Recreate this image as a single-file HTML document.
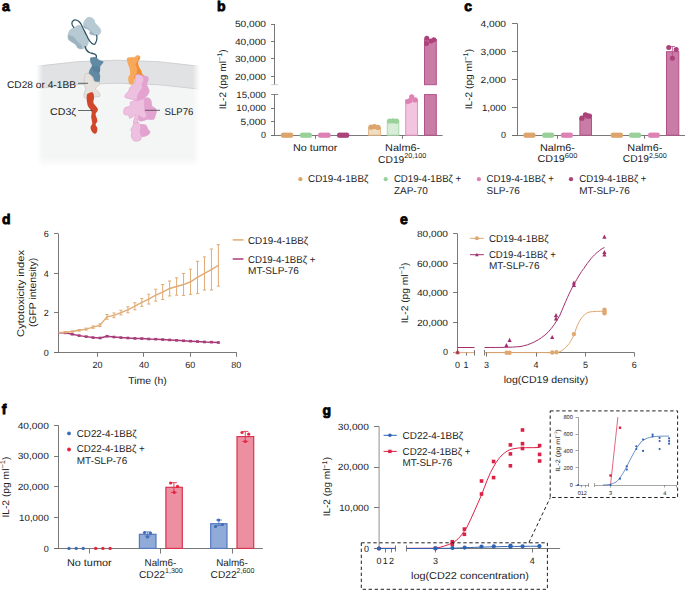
<!DOCTYPE html>
<html><head><meta charset="utf-8"><style>
html,body{margin:0;padding:0;background:#fff;width:685px;height:590px;overflow:hidden}
svg{display:block;font-family:"Liberation Sans",sans-serif;text-rendering:geometricPrecision}
</style></head><body>
<svg width="685" height="590" viewBox="0 0 685 590">
<defs>
<linearGradient id="hfade" x1="36" x2="200" y1="0" y2="0" gradientUnits="userSpaceOnUse">
<stop offset="0" stop-color="#fff" stop-opacity="1"/><stop offset="0.045" stop-color="#fff" stop-opacity="0"/>
<stop offset="0.955" stop-color="#fff" stop-opacity="0"/><stop offset="1" stop-color="#fff" stop-opacity="1"/></linearGradient>
<linearGradient id="vfade" x1="0" x2="0" y1="158" y2="167" gradientUnits="userSpaceOnUse">
<stop offset="0" stop-color="#fff" stop-opacity="0"/><stop offset="1" stop-color="#fff" stop-opacity="1"/></linearGradient>
</defs>
<rect x="37" y="70" width="163" height="98" fill="#f4f5f5"/>
<path d="M36,66.3 Q118,54 200,66.3 L200,89.2 Q118,77.5 36,88.6 Z" fill="#e1e2e4"/>
<path d="M36,66.3 Q118,54 200,66.3" fill="none" stroke="#c9cacc" stroke-width="0.8"/>
<path d="M36,88.6 Q118,77.5 200,89.2" fill="none" stroke="#c9cacc" stroke-width="0.8"/>
<rect x="30" y="50" width="176" height="120" fill="url(#hfade)"/>
<rect x="30" y="158" width="176" height="12" fill="url(#vfade)"/>
<path d="M84.10,21.90 C84.82,20.48 85.18,19.35 86.60,18.30 C88.02,17.25 88.50,17.12 90.20,17.40 C91.90,17.68 92.76,18.17 93.90,19.50 C95.04,20.83 94.12,21.54 95.10,23.10 C96.08,24.66 96.82,24.61 98.10,26.20 C99.38,27.79 100.16,28.20 100.60,29.90 C101.04,31.60 100.86,32.24 100.00,33.50 C99.14,34.76 98.77,35.02 96.90,35.30 C95.03,35.58 93.70,35.12 92.00,34.70 C90.30,34.28 90.02,34.34 89.60,33.50 C89.18,32.66 90.62,32.10 90.20,31.10 C89.78,30.10 89.22,30.06 87.80,29.20 C86.38,28.34 85.10,28.52 84.10,27.40 C83.10,26.28 83.50,25.68 83.50,24.40 C83.50,23.12 83.38,23.32 84.10,21.90 Z" fill="#b7cad4" stroke="#a5bbc6" stroke-width="0.5"/>
<path d="M84.10,25.50 C84.34,25.51 86.01,27.15 86.50,27.50 C86.99,27.85 88.55,28.65 89.00,29.00 C89.45,29.35 90.50,30.55 91.00,31.00 C91.50,31.45 93.41,33.07 94.00,33.50 C94.59,33.93 97.10,35.18 96.90,35.30 C96.70,35.42 92.73,34.88 92.00,34.70 C91.27,34.52 89.78,33.86 89.60,33.50 C89.42,33.14 90.38,31.53 90.20,31.10 C90.02,30.67 88.41,29.57 87.80,29.20 C87.19,28.83 84.47,27.77 84.10,27.40 C83.73,27.03 83.86,25.49 84.10,25.50 Z" fill="#9db4c0"/>
<path d="M70.10,29.90 C71.38,28.76 72.28,28.47 74.40,27.40 C76.52,26.33 77.50,25.16 79.20,25.30 C80.90,25.44 80.42,26.37 81.70,28.00 C82.98,29.63 83.42,30.15 84.70,32.30 C85.98,34.45 86.34,35.08 87.20,37.20 C88.06,39.32 88.54,39.28 88.40,41.40 C88.26,43.52 88.02,44.57 86.60,46.30 C85.18,48.03 84.31,48.38 82.30,48.80 C80.29,49.22 79.56,49.10 78.00,48.10 C76.44,47.10 77.02,45.92 75.60,44.50 C74.18,43.08 73.53,43.14 71.90,42.00 C70.27,40.86 69.51,41.16 68.60,39.60 C67.69,38.04 67.93,37.00 68.00,35.30 C68.07,33.60 68.41,33.56 68.90,32.30 C69.39,31.04 68.82,31.04 70.10,29.90 Z" fill="#b7cad4" stroke="#a5bbc6" stroke-width="0.5"/>
<path d="M68.00,35.30 C68.24,34.89 70.40,35.33 71.00,35.50 C71.60,35.67 73.50,36.60 74.00,37.00 C74.50,37.40 75.55,38.95 76.00,39.50 C76.45,40.05 78.00,42.00 78.50,42.50 C79.00,43.00 80.62,43.87 81.00,44.50 C81.38,45.13 82.60,48.44 82.30,48.80 C82.00,49.16 78.67,48.53 78.00,48.10 C77.33,47.67 76.21,45.11 75.60,44.50 C74.99,43.89 72.60,42.49 71.90,42.00 C71.20,41.51 68.99,40.27 68.60,39.60 C68.21,38.93 67.76,35.71 68.00,35.30 Z" fill="#9db4c0"/>
<path d="M73.80,27.40 C73.29,26.44 72.09,25.59 71.90,23.80 C71.71,22.01 71.95,21.69 73.10,20.70 C74.25,19.71 74.39,19.62 76.20,20.10 C78.01,20.58 78.11,20.39 79.90,22.50 C81.69,24.61 81.11,24.59 82.90,28.00 C84.69,31.41 84.81,31.89 86.60,35.30 C88.39,38.71 87.81,38.43 89.60,40.80 C91.39,43.17 91.67,43.69 93.30,44.20 C94.93,44.71 94.74,44.25 95.70,42.70 C96.66,41.15 96.66,40.37 96.90,38.40 C97.14,36.43 96.68,36.13 96.60,35.30" fill="none" stroke="#2f5663" stroke-width="1.25" stroke-linecap="round"/>
<path d="M85.30,46.60 C85.62,47.51 85.38,48.43 86.50,50.00 C87.62,51.57 87.63,51.51 89.50,52.50 C91.37,53.49 91.77,52.98 93.50,53.70 C95.23,54.42 95.25,54.11 96.00,55.20 C96.75,56.29 96.22,57.11 96.30,57.80" fill="none" stroke="#2f5663" stroke-width="1.4" stroke-linecap="round"/>
<path d="M90.30,57.70 C90.66,57.09 92.33,57.29 93.00,57.20 C93.67,57.11 94.70,56.83 95.30,57.00 C95.90,57.17 96.95,58.09 97.50,58.50 C98.05,58.91 98.60,59.66 99.40,60.10 C100.20,60.54 103.07,61.35 103.50,61.80 C103.93,62.25 103.00,62.94 102.60,63.50 C102.20,64.06 100.83,65.32 100.50,66.00 C100.17,66.68 100.25,67.72 100.10,68.60 C99.95,69.48 99.40,71.68 99.40,72.60 C99.40,73.52 100.01,74.78 100.10,75.50 C100.19,76.22 100.23,77.07 100.10,78.00 C99.97,78.93 99.87,81.95 99.10,82.50 C98.33,83.05 95.07,82.78 94.30,82.10 C93.53,81.42 93.81,78.28 93.30,77.40 C92.79,76.52 91.13,75.95 90.50,75.50 C89.87,75.05 88.72,74.75 88.60,74.00 C88.48,73.25 89.15,70.99 89.60,69.90 C90.05,68.81 91.81,66.65 92.00,65.80 C92.19,64.95 91.23,64.03 91.00,63.50 C90.77,62.97 90.39,62.57 90.30,61.80 C90.21,61.03 89.94,58.31 90.30,57.70 Z" fill="#6089a3"/>
<path d="M92.00,65.80 C92.20,65.27 93.83,66.91 94.50,67.00 C95.17,67.09 96.25,66.29 97.00,66.50 C97.75,66.71 99.78,67.79 100.10,68.60 C100.42,69.41 99.95,72.15 99.40,72.60 C98.85,73.05 96.85,72.21 96.00,72.00 C95.15,71.79 93.53,71.83 93.00,71.00 C92.47,70.17 91.80,66.33 92.00,65.80 Z" fill="#56809b"/>
<path d="M85.00,74.50 C85.43,74.01 86.97,73.15 87.80,73.30 C88.63,73.45 90.31,74.55 91.20,75.60 C92.09,76.65 93.38,80.31 94.50,81.20 C95.62,82.09 98.95,81.83 99.60,82.30 C100.25,82.77 99.95,83.87 99.40,84.70 C98.85,85.53 95.62,87.53 95.50,88.50 C95.38,89.47 97.90,90.96 98.50,92.00 C99.10,93.04 100.87,95.61 100.00,96.30 C99.13,96.99 94.07,97.03 92.00,97.20 C89.93,97.37 85.54,98.16 84.50,97.60 C83.46,97.04 84.03,94.15 84.20,93.00 C84.37,91.85 85.76,90.07 85.80,89.00 C85.84,87.93 84.71,86.20 84.50,85.00 C84.29,83.80 84.19,81.07 84.20,80.00 C84.21,78.93 84.49,77.73 84.60,77.00 C84.71,76.27 84.57,74.99 85.00,74.50 Z" fill="#e5e1dd" stroke="#c9beb4" stroke-width="0.6"/>
<path d="M87.30,94.00 C88.03,93.30 90.18,92.40 91.20,92.30 C92.22,92.20 92.93,92.47 93.40,93.40 C93.87,94.33 94.00,96.40 94.00,97.90 C94.00,99.40 93.13,101.10 93.40,102.40 C93.67,103.70 94.85,104.60 95.60,105.70 C96.35,106.80 97.62,108.07 97.90,109.00 C98.18,109.93 97.68,110.45 97.30,111.30 C96.92,112.15 95.70,112.98 95.60,114.10 C95.50,115.22 96.42,116.80 96.70,118.00 C96.98,119.20 97.48,120.18 97.30,121.30 C97.12,122.42 95.60,123.58 95.60,124.70 C95.60,125.82 97.12,126.70 97.30,128.00 C97.48,129.30 97.25,131.57 96.70,132.50 C96.15,133.43 94.92,133.97 94.00,133.60 C93.08,133.23 91.77,131.42 91.20,130.30 C90.63,129.18 90.42,128.02 90.60,126.90 C90.78,125.78 92.20,125.27 92.30,123.60 C92.40,121.93 91.30,118.77 91.20,116.90 C91.10,115.03 91.90,113.70 91.70,112.40 C91.50,111.10 90.65,110.22 90.00,109.10 C89.35,107.98 88.35,107.20 87.80,105.70 C87.25,104.20 86.87,101.63 86.70,100.10 C86.53,98.57 86.70,97.52 86.80,96.50 C86.90,95.48 86.57,94.70 87.30,94.00 Z" fill="#d1472b"/>
<path d="M126.90,58.30 C127.37,57.25 129.30,57.43 130.60,57.20 C131.90,56.97 133.63,57.23 134.70,56.90 C135.77,56.57 136.13,55.35 137.00,55.20 C137.87,55.05 139.38,55.48 139.90,56.00 C140.42,56.52 140.40,57.33 140.10,58.30 C139.80,59.27 138.33,60.45 138.10,61.80 C137.87,63.15 138.22,64.97 138.70,66.40 C139.18,67.83 140.42,69.15 141.00,70.40 C141.58,71.65 141.72,73.03 142.20,73.90 C142.68,74.77 144.97,75.42 143.90,75.60 C142.83,75.78 137.43,73.85 135.80,75.00 C134.17,76.15 134.87,80.87 134.10,82.50 C133.33,84.13 132.07,84.70 131.20,84.80 C130.33,84.90 129.38,84.35 128.90,83.10 C128.42,81.85 128.10,78.83 128.30,77.30 C128.50,75.77 129.90,75.43 130.10,73.90 C130.30,72.37 129.88,69.83 129.50,68.10 C129.12,66.37 128.23,65.13 127.80,63.50 C127.37,61.87 126.43,59.35 126.90,58.30 Z" fill="#f8a85a"/>
<path d="M138.60,57.50 C138.95,57.14 140.17,57.73 140.10,58.30 C140.03,58.87 138.29,60.72 138.10,61.80 C137.91,62.88 138.31,65.25 138.70,66.40 C139.09,67.55 140.53,69.40 141.00,70.40 C141.47,71.40 141.81,73.21 142.20,73.90 C142.59,74.59 144.73,75.19 143.90,75.60 C143.07,76.01 137.25,76.55 136.00,77.00 C134.75,77.45 134.74,79.07 134.50,79.00 C134.26,78.93 133.92,77.26 134.20,76.50 C134.48,75.74 136.23,74.42 136.60,73.30 C136.97,72.18 137.15,69.29 137.00,68.10 C136.85,66.91 135.43,65.35 135.50,64.40 C135.57,63.45 137.09,61.92 137.50,61.00 C137.91,60.08 138.25,57.86 138.60,57.50 Z" fill="#f08d35"/>
<path d="M134.20,123.10 C134.98,122.43 136.58,121.57 137.60,121.80 C138.62,122.03 138.93,123.93 140.30,124.50 C141.67,125.07 144.55,124.42 145.80,125.20 C147.05,125.98 147.13,128.18 147.80,129.20 C148.47,130.22 149.57,130.50 149.80,131.30 C150.03,132.10 149.87,133.22 149.20,134.00 C148.53,134.78 147.05,135.55 145.80,136.00 C144.55,136.45 142.62,136.02 141.70,136.70 C140.78,137.38 141.43,139.37 140.30,140.10 C139.17,140.83 136.25,141.33 134.90,141.10 C133.55,140.87 132.82,139.67 132.20,138.70 C131.58,137.73 131.25,136.42 131.20,135.30 C131.15,134.18 131.97,132.95 131.90,132.00 C131.83,131.05 130.63,130.63 130.80,129.60 C130.97,128.57 132.33,126.88 132.90,125.80 C133.47,124.72 133.42,123.77 134.20,123.10 Z" fill="#eec0e0" stroke="#d98fc3" stroke-width="0.5"/>
<path d="M140.30,124.50 C141.01,124.13 144.80,124.57 145.80,125.20 C146.80,125.83 147.27,128.39 147.80,129.20 C148.33,130.01 149.61,130.66 149.80,131.30 C149.99,131.94 149.73,133.37 149.20,134.00 C148.67,134.63 146.80,135.64 145.80,136.00 C144.80,136.36 142.51,137.23 141.70,136.70 C140.89,136.17 139.86,133.16 139.70,132.00 C139.54,130.84 140.42,129.00 140.50,128.00 C140.58,127.00 139.59,124.87 140.30,124.50 Z" fill="#e3a3d0"/>
<path d="M135.90,98.20 C137.00,97.97 138.32,99.80 139.70,99.90 C141.08,100.00 142.90,99.17 144.20,98.80 C145.50,98.43 146.40,97.52 147.50,97.70 C148.60,97.88 150.05,98.52 150.80,99.90 C151.55,101.28 151.25,104.62 152.00,106.00 C152.75,107.38 154.57,107.28 155.30,108.20 C156.03,109.12 156.40,110.30 156.40,111.50 C156.40,112.70 155.77,114.10 155.30,115.40 C154.83,116.70 154.98,118.65 153.60,119.30 C152.22,119.95 148.57,119.12 147.00,119.30 C145.43,119.48 145.42,120.12 144.20,120.40 C142.98,120.68 140.90,121.32 139.70,121.00 C138.50,120.68 137.35,118.25 137.00,118.50 C136.65,118.75 138.18,121.75 137.60,122.50 C137.02,123.25 134.02,123.75 133.50,123.00 C132.98,122.25 134.10,119.35 134.50,118.00 C134.90,116.65 136.68,114.87 135.90,114.90 C135.12,114.93 131.00,118.12 129.80,118.20 C128.60,118.28 129.63,116.05 128.70,115.40 C127.77,114.75 124.95,115.40 124.20,114.30 C123.45,113.20 123.73,110.00 124.20,108.80 C124.67,107.60 125.98,107.67 127.00,107.10 C128.02,106.53 129.75,106.23 130.30,105.40 C130.85,104.57 129.83,102.78 130.30,102.10 C130.77,101.42 132.17,101.95 133.10,101.30 C134.03,100.65 134.80,98.43 135.90,98.20 Z" fill="#eec0e0" stroke="#d98fc3" stroke-width="0.5"/>
<path d="M144.20,98.80 C144.64,97.92 146.62,97.55 147.50,97.70 C148.38,97.85 150.20,98.79 150.80,99.90 C151.40,101.01 151.40,104.89 152.00,106.00 C152.60,107.11 154.71,107.47 155.30,108.20 C155.89,108.93 156.40,110.54 156.40,111.50 C156.40,112.46 155.67,114.36 155.30,115.40 C154.93,116.44 154.71,118.78 153.60,119.30 C152.49,119.82 148.25,119.15 147.00,119.30 C145.75,119.45 145.17,120.17 144.20,120.40 C143.23,120.63 140.51,121.67 139.70,121.00 C138.89,120.33 137.50,115.77 138.10,115.40 C138.70,115.03 143.09,118.35 144.20,118.20 C145.31,118.05 146.36,115.13 146.40,114.30 C146.44,113.47 144.79,113.33 144.50,112.00 C144.21,110.67 144.24,106.06 144.20,104.30 C144.16,102.54 143.76,99.68 144.20,98.80 Z" fill="#e3a3d0"/>
<path d="M135.30,75.60 C135.80,74.97 137.12,74.27 138.30,74.30 C139.48,74.33 140.87,75.38 142.40,75.80 C143.93,76.22 146.53,76.08 147.50,76.80 C148.47,77.52 148.33,78.87 148.20,80.10 C148.07,81.33 146.65,82.75 146.70,84.20 C146.75,85.65 148.08,87.62 148.50,88.80 C148.92,89.98 149.37,90.28 149.20,91.30 C149.03,92.32 148.30,93.80 147.50,94.90 C146.70,96.00 145.60,97.13 144.40,97.90 C143.20,98.67 141.57,99.07 140.30,99.50 C139.03,99.93 137.98,100.50 136.80,100.50 C135.62,100.50 134.65,99.85 133.20,99.50 C131.75,99.15 129.50,98.83 128.10,98.40 C126.70,97.97 125.22,97.57 124.80,96.90 C124.38,96.23 124.97,95.33 125.60,94.40 C126.23,93.47 127.92,92.40 128.60,91.30 C129.28,90.20 129.10,88.82 129.70,87.80 C130.30,86.78 131.27,86.13 132.20,85.20 C133.13,84.27 134.78,83.38 135.30,82.20 C135.82,81.02 135.30,79.20 135.30,78.10 C135.30,77.00 134.80,76.23 135.30,75.60 Z" fill="#eec0e0" stroke="#d98fc3" stroke-width="0.5"/>
<path d="M142.40,75.80 C142.93,75.37 146.73,76.23 147.50,76.80 C148.27,77.37 148.31,79.11 148.20,80.10 C148.09,81.09 146.66,83.04 146.70,84.20 C146.74,85.36 148.17,87.85 148.50,88.80 C148.83,89.75 149.33,90.49 149.20,91.30 C149.07,92.11 148.14,94.02 147.50,94.90 C146.86,95.78 145.36,97.29 144.40,97.90 C143.44,98.51 141.31,99.15 140.30,99.50 C139.29,99.85 137.17,101.10 136.80,100.50 C136.43,99.90 137.21,96.13 137.50,95.00 C137.79,93.87 138.40,92.93 139.00,92.00 C139.60,91.07 141.67,89.07 142.00,88.00 C142.33,86.93 141.30,85.07 141.50,84.00 C141.70,82.93 143.38,81.09 143.50,80.00 C143.62,78.91 141.87,76.23 142.40,75.80 Z" fill="#e3a3d0"/>
<line x1="78" y1="83.3" x2="88" y2="83.3" stroke="#444" stroke-width="0.8"/>
<line x1="78" y1="110.5" x2="92.6" y2="110.5" stroke="#444" stroke-width="0.8"/>
<line x1="145" y1="110.3" x2="160" y2="110.3" stroke="#444" stroke-width="0.8"/>
<text x="76" y="87.6" font-size="9.8" text-anchor="end" fill="#222222" textLength="69" lengthAdjust="spacingAndGlyphs">CD28 or 4-1BB</text>
<text x="76" y="114.6" font-size="9.8" text-anchor="end" fill="#222222" textLength="26" lengthAdjust="spacingAndGlyphs">CD3ζ</text>
<text x="164.5" y="114.5" font-size="9.8" text-anchor="start" fill="#222222" textLength="29" lengthAdjust="spacingAndGlyphs">SLP76</text>
<text x="2.1" y="11.3" font-size="14" text-anchor="start" font-weight="bold" fill="#000" stroke="#000" stroke-width="0.8">a</text>
<text x="217" y="10.6" font-size="14" text-anchor="start" font-weight="bold" fill="#000" stroke="#000" stroke-width="0.8">b</text>
<text x="464.2" y="10.6" font-size="14" text-anchor="start" font-weight="bold" fill="#000" stroke="#000" stroke-width="0.8">c</text>
<text x="2" y="223.8" font-size="14" text-anchor="start" font-weight="bold" fill="#000" stroke="#000" stroke-width="0.8">d</text>
<text x="400" y="223.8" font-size="14" text-anchor="start" font-weight="bold" fill="#000" stroke="#000" stroke-width="0.8">e</text>
<text x="1.8" y="414.2" font-size="14" text-anchor="start" font-weight="bold" fill="#000" stroke="#000" stroke-width="0.8">f</text>
<text x="322.4" y="414.5" font-size="14" text-anchor="start" font-weight="bold" fill="#000" stroke="#000" stroke-width="0.8">g</text>
<line x1="274.5" y1="24" x2="274.5" y2="84.7" stroke="#6a6a6a" stroke-width="0.9" />
<line x1="274.5" y1="94.5" x2="274.5" y2="135.2" stroke="#6a6a6a" stroke-width="0.9" />
<line x1="271.2" y1="84.7" x2="278.2" y2="84.7" stroke="#b9babc" stroke-width="0.7" />
<line x1="271.2" y1="94.5" x2="278.2" y2="94.5" stroke="#6a6a6a" stroke-width="0.8" />
<line x1="271" y1="24.5" x2="274.8" y2="24.5" stroke="#6a6a6a" stroke-width="0.9" />
<text x="266" y="27.2" font-size="9" text-anchor="end" font-weight="normal" fill="#222222" textLength="31.1" lengthAdjust="spacingAndGlyphs" >50,000</text>
<line x1="271" y1="41.5" x2="274.8" y2="41.5" stroke="#6a6a6a" stroke-width="0.9" />
<text x="266" y="44.7" font-size="9" text-anchor="end" font-weight="normal" fill="#222222" textLength="31.1" lengthAdjust="spacingAndGlyphs" >40,000</text>
<line x1="271" y1="58.5" x2="274.8" y2="58.5" stroke="#6a6a6a" stroke-width="0.9" />
<text x="266" y="62.0" font-size="9" text-anchor="end" font-weight="normal" fill="#222222" textLength="31.1" lengthAdjust="spacingAndGlyphs" >30,000</text>
<line x1="271" y1="76.5" x2="274.8" y2="76.5" stroke="#6a6a6a" stroke-width="0.9" />
<text x="266" y="79.60000000000001" font-size="9" text-anchor="end" font-weight="normal" fill="#222222" textLength="31.1" lengthAdjust="spacingAndGlyphs" >20,000</text>
<text x="266" y="97.7" font-size="9" text-anchor="end" font-weight="normal" fill="#222222" textLength="29.7" lengthAdjust="spacingAndGlyphs" >15,000</text>
<line x1="271" y1="108.5" x2="274.8" y2="108.5" stroke="#6a6a6a" stroke-width="0.9" />
<text x="266" y="111.4" font-size="9" text-anchor="end" font-weight="normal" fill="#222222" textLength="29.7" lengthAdjust="spacingAndGlyphs" >10,000</text>
<line x1="271" y1="121.5" x2="274.8" y2="121.5" stroke="#6a6a6a" stroke-width="0.9" />
<text x="266" y="124.7" font-size="9" text-anchor="end" font-weight="normal" fill="#222222" textLength="25.5" lengthAdjust="spacingAndGlyphs" >5,000</text>
<line x1="271" y1="135.5" x2="274.8" y2="135.5" stroke="#6a6a6a" stroke-width="0.9" />
<text x="266" y="138.39999999999998" font-size="9" text-anchor="end" font-weight="normal" fill="#222222" >0</text>
<text transform="translate(225.8,109.3) rotate(-90)" x="0" y="0" font-size="9.6" fill="#222222" textLength="60" lengthAdjust="spacingAndGlyphs">IL-2 (pg ml<tspan font-size="7" dy="-3.8">−1</tspan><tspan dy="3.8">)</tspan></text>
<line x1="271" y1="135.5" x2="442.6" y2="135.5" stroke="#6a6a6a" stroke-width="0.9" />
<line x1="315.5" y1="135.2" x2="315.5" y2="138.8" stroke="#6a6a6a" stroke-width="0.9" />
<line x1="402.5" y1="135.2" x2="402.5" y2="138.8" stroke="#6a6a6a" stroke-width="0.9" />
<text x="315.2" y="151.4" font-size="10" text-anchor="middle" font-weight="normal" fill="#222222" textLength="44.4" lengthAdjust="spacingAndGlyphs" >No tumor</text>
<text x="402.6" y="151.4" font-size="10" text-anchor="middle" font-weight="normal" fill="#222222" textLength="35" lengthAdjust="spacingAndGlyphs" >Nalm6-</text>
<text x="402.2" y="162.5" font-size="10" text-anchor="middle" fill="#222222" textLength="48.2" lengthAdjust="spacingAndGlyphs">CD19<tspan font-size="7" dy="-4.4">20,100</tspan></text>
<circle cx="283.4" cy="135.2" r="2.6" fill="#dca56d"/>
<circle cx="285.83" cy="135.2" r="2.6" fill="#dca56d"/>
<circle cx="288.27" cy="135.2" r="2.6" fill="#dca56d"/>
<circle cx="290.7" cy="135.2" r="2.6" fill="#dca56d"/>
<circle cx="302.4" cy="135.2" r="2.6" fill="#9ad19a"/>
<circle cx="304.73" cy="135.2" r="2.6" fill="#9ad19a"/>
<circle cx="307.07" cy="135.2" r="2.6" fill="#9ad19a"/>
<circle cx="309.4" cy="135.2" r="2.6" fill="#9ad19a"/>
<circle cx="320.6" cy="135.2" r="2.6" fill="#de82b6"/>
<circle cx="323.1" cy="135.2" r="2.6" fill="#de82b6"/>
<circle cx="325.6" cy="135.2" r="2.6" fill="#de82b6"/>
<circle cx="328.1" cy="135.2" r="2.6" fill="#de82b6"/>
<circle cx="339.6" cy="135.2" r="2.6" fill="#ab4279"/>
<circle cx="341.97" cy="135.2" r="2.6" fill="#ab4279"/>
<circle cx="344.33" cy="135.2" r="2.6" fill="#ab4279"/>
<circle cx="346.7" cy="135.2" r="2.6" fill="#ab4279"/>
<rect x="368.6" y="127.6" width="11.899999999999977" height="7.599999999999994" fill="#f2dcc0" stroke="#e2b686" stroke-width="1"/>
<circle cx="371" cy="127.2" r="2.6" fill="#dca56d"/>
<circle cx="374.5" cy="126.6" r="2.6" fill="#dca56d"/>
<circle cx="378" cy="127.4" r="2.6" fill="#dca56d"/>
<rect x="387.3" y="121.2" width="11.5" height="13.999999999999986" fill="#d7edd7" stroke="#a9d8a9" stroke-width="1"/>
<circle cx="389.6" cy="121" r="2.6" fill="#9ad19a"/>
<circle cx="393" cy="120.8" r="2.6" fill="#9ad19a"/>
<circle cx="396.5" cy="121.2" r="2.6" fill="#9ad19a"/>
<rect x="405.7" y="100" width="11.800000000000011" height="35.19999999999999" fill="#f3c4df" stroke="#e291c1" stroke-width="1"/>
<circle cx="407.8" cy="101.6" r="2.6" fill="#de82b6"/>
<circle cx="411.7" cy="96.8" r="2.6" fill="#de82b6"/>
<circle cx="415.2" cy="99.9" r="2.6" fill="#de82b6"/>
<circle cx="410" cy="100.5" r="2.6" fill="#de82b6"/>
<rect x="424.5" y="39.5" width="11.8" height="45.2" fill="#c97ca6" stroke="#b3518a" stroke-width="1"/>
<rect x="424.5" y="94.6" width="11.8" height="40.6" fill="#c97ca6" stroke="#b3518a" stroke-width="1"/>
<circle cx="426.8" cy="38.3" r="2.5" fill="#ab4279"/>
<circle cx="426.5" cy="43.5" r="2.5" fill="#ab4279"/>
<circle cx="433.9" cy="39.8" r="2.5" fill="#ab4279"/>
<circle cx="431" cy="41" r="2.5" fill="#ab4279"/>
<circle cx="300.4" cy="179.2" r="2.1" fill="#dca56d"/>
<text x="308" y="182.3" font-size="10" text-anchor="start" font-weight="normal" fill="#222222" textLength="60.4" lengthAdjust="spacingAndGlyphs" >CD19-4-1BBζ</text>
<circle cx="385.7" cy="179.2" r="2.1" fill="#9ad19a"/>
<text x="393.9" y="182.3" font-size="10" text-anchor="start" font-weight="normal" fill="#222222" textLength="67.3" lengthAdjust="spacingAndGlyphs" >CD19-4-1BBζ +</text>
<text x="393.9" y="193.70000000000002" font-size="10" text-anchor="start" font-weight="normal" fill="#222222" >ZAP-70</text>
<circle cx="478.9" cy="179.2" r="2.1" fill="#de82b6"/>
<text x="486.5" y="182.3" font-size="10" text-anchor="start" font-weight="normal" fill="#222222" textLength="67.3" lengthAdjust="spacingAndGlyphs" >CD19-4-1BBζ +</text>
<text x="486.5" y="193.70000000000002" font-size="10" text-anchor="start" font-weight="normal" fill="#222222" >SLP-76</text>
<circle cx="571" cy="179.2" r="2.1" fill="#ab4279"/>
<text x="579.2" y="182.3" font-size="10" text-anchor="start" font-weight="normal" fill="#222222" textLength="67.3" lengthAdjust="spacingAndGlyphs" >CD19-4-1BBζ +</text>
<text x="579.2" y="193.70000000000002" font-size="10" text-anchor="start" font-weight="normal" fill="#222222" >MT-SLP-76</text>
<line x1="517.5" y1="23.6" x2="517.5" y2="135.2" stroke="#6a6a6a" stroke-width="0.9" />
<line x1="512" y1="23.5" x2="517.5" y2="23.5" stroke="#6a6a6a" stroke-width="0.9" />
<text x="506" y="26.8" font-size="9" text-anchor="end" font-weight="normal" fill="#222222" textLength="25.5" lengthAdjust="spacingAndGlyphs" >4,000</text>
<line x1="512" y1="51.5" x2="517.5" y2="51.5" stroke="#6a6a6a" stroke-width="0.9" />
<text x="506" y="54.7" font-size="9" text-anchor="end" font-weight="normal" fill="#222222" textLength="25.5" lengthAdjust="spacingAndGlyphs" >3,000</text>
<line x1="512" y1="79.5" x2="517.5" y2="79.5" stroke="#6a6a6a" stroke-width="0.9" />
<text x="506" y="82.60000000000001" font-size="9" text-anchor="end" font-weight="normal" fill="#222222" textLength="25.5" lengthAdjust="spacingAndGlyphs" >2,000</text>
<line x1="512" y1="107.5" x2="517.5" y2="107.5" stroke="#6a6a6a" stroke-width="0.9" />
<text x="506" y="110.5" font-size="9" text-anchor="end" font-weight="normal" fill="#222222" textLength="24.1" lengthAdjust="spacingAndGlyphs" >1,000</text>
<line x1="512" y1="135.5" x2="517.5" y2="135.5" stroke="#6a6a6a" stroke-width="0.9" />
<text x="506" y="138.39999999999998" font-size="9" text-anchor="end" font-weight="normal" fill="#222222" >0</text>
<text transform="translate(472.0,109.3) rotate(-90)" x="0" y="0" font-size="9.6" fill="#222222" textLength="60.4" lengthAdjust="spacingAndGlyphs">IL-2 (pg ml<tspan font-size="7" dy="-3.8">−1</tspan><tspan dy="3.8">)</tspan></text>
<line x1="512" y1="135.5" x2="685" y2="135.5" stroke="#6a6a6a" stroke-width="0.9" />
<line x1="557.5" y1="135.2" x2="557.5" y2="138.8" stroke="#6a6a6a" stroke-width="0.9" />
<line x1="644.5" y1="135.2" x2="644.5" y2="138.8" stroke="#6a6a6a" stroke-width="0.9" />
<text x="557.4" y="150.9" font-size="10" text-anchor="middle" font-weight="normal" fill="#222222" textLength="35" lengthAdjust="spacingAndGlyphs" >Nalm6-</text>
<text x="557.4" y="162" font-size="10" text-anchor="middle" fill="#222222" textLength="40" lengthAdjust="spacingAndGlyphs">CD19<tspan font-size="7" dy="-4.4">600</tspan></text>
<text x="644.8" y="150.9" font-size="10" text-anchor="middle" font-weight="normal" fill="#222222" textLength="35" lengthAdjust="spacingAndGlyphs" >Nalm6-</text>
<text x="644.8" y="162" font-size="10" text-anchor="middle" fill="#222222" textLength="44" lengthAdjust="spacingAndGlyphs">CD19<tspan font-size="7" dy="-4.4">2,500</tspan></text>
<circle cx="526.0" cy="135.2" r="2.6" fill="#dca56d"/>
<circle cx="528.33" cy="135.2" r="2.6" fill="#dca56d"/>
<circle cx="530.67" cy="135.2" r="2.6" fill="#dca56d"/>
<circle cx="533.0" cy="135.2" r="2.6" fill="#dca56d"/>
<circle cx="544.7" cy="135.2" r="2.6" fill="#9ad19a"/>
<circle cx="547.03" cy="135.2" r="2.6" fill="#9ad19a"/>
<circle cx="549.37" cy="135.2" r="2.6" fill="#9ad19a"/>
<circle cx="551.7" cy="135.2" r="2.6" fill="#9ad19a"/>
<circle cx="563.4" cy="135.2" r="2.6" fill="#de82b6"/>
<circle cx="565.73" cy="135.2" r="2.6" fill="#de82b6"/>
<circle cx="568.07" cy="135.2" r="2.6" fill="#de82b6"/>
<circle cx="570.4" cy="135.2" r="2.6" fill="#de82b6"/>
<circle cx="613.2" cy="135.2" r="2.6" fill="#dca56d"/>
<circle cx="615.63" cy="135.2" r="2.6" fill="#dca56d"/>
<circle cx="618.07" cy="135.2" r="2.6" fill="#dca56d"/>
<circle cx="620.5" cy="135.2" r="2.6" fill="#dca56d"/>
<circle cx="631.6" cy="135.2" r="2.6" fill="#9ad19a"/>
<circle cx="633.93" cy="135.2" r="2.6" fill="#9ad19a"/>
<circle cx="636.27" cy="135.2" r="2.6" fill="#9ad19a"/>
<circle cx="638.6" cy="135.2" r="2.6" fill="#9ad19a"/>
<circle cx="650.6" cy="135.2" r="2.6" fill="#de82b6"/>
<circle cx="652.83" cy="135.2" r="2.6" fill="#de82b6"/>
<circle cx="655.07" cy="135.2" r="2.6" fill="#de82b6"/>
<circle cx="657.3" cy="135.2" r="2.6" fill="#de82b6"/>
<rect x="579.9" y="118.2" width="11.600000000000023" height="16.999999999999986" fill="#c97ca6" stroke="#b3518a" stroke-width="1"/>
<circle cx="581.9" cy="118.2" r="2.6" fill="#ab4279"/>
<circle cx="585.4" cy="114.9" r="2.6" fill="#ab4279"/>
<circle cx="589.5" cy="116" r="2.6" fill="#ab4279"/>
<circle cx="587" cy="115.6" r="2.6" fill="#ab4279"/>
<rect x="666.5" y="51.7" width="12.299999999999955" height="83.49999999999999" fill="#c97ca6" stroke="#b3518a" stroke-width="1"/>
<line x1="672.4" y1="46.5" x2="672.4" y2="58" stroke="#b3518a" stroke-width="0.8" />
<line x1="670" y1="46.5" x2="675" y2="46.5" stroke="#b3518a" stroke-width="0.8" />
<circle cx="668.7" cy="47.4" r="2.5" fill="#ab4279"/>
<circle cx="676.2" cy="49.4" r="2.5" fill="#ab4279"/>
<circle cx="672.4" cy="58.2" r="2.5" fill="#ab4279"/>
<line x1="58.5" y1="233.8" x2="58.5" y2="352.4" stroke="#6a6a6a" stroke-width="0.9" />
<line x1="54" y1="233.5" x2="58.4" y2="233.5" stroke="#6a6a6a" stroke-width="0.9" />
<text x="48.8" y="237.0" font-size="9" text-anchor="end" font-weight="normal" fill="#222222" >6</text>
<line x1="54" y1="273.5" x2="58.4" y2="273.5" stroke="#6a6a6a" stroke-width="0.9" />
<text x="48.8" y="276.5" font-size="9" text-anchor="end" font-weight="normal" fill="#222222" >4</text>
<line x1="54" y1="312.5" x2="58.4" y2="312.5" stroke="#6a6a6a" stroke-width="0.9" />
<text x="48.8" y="316.09999999999997" font-size="9" text-anchor="end" font-weight="normal" fill="#222222" >2</text>
<line x1="54" y1="352.5" x2="58.4" y2="352.5" stroke="#6a6a6a" stroke-width="0.9" />
<text x="48.8" y="355.59999999999997" font-size="9" text-anchor="end" font-weight="normal" fill="#222222" >0</text>
<line x1="54" y1="352.5" x2="236.6" y2="352.5" stroke="#6a6a6a" stroke-width="0.9" />
<line x1="97.5" y1="352.4" x2="97.5" y2="356.8" stroke="#6a6a6a" stroke-width="0.9" />
<text x="97.5" y="368.4" font-size="9" text-anchor="middle" font-weight="normal" fill="#222222" >20</text>
<line x1="143.5" y1="352.4" x2="143.5" y2="356.8" stroke="#6a6a6a" stroke-width="0.9" />
<text x="143.9" y="368.4" font-size="9" text-anchor="middle" font-weight="normal" fill="#222222" >40</text>
<line x1="190.5" y1="352.4" x2="190.5" y2="356.8" stroke="#6a6a6a" stroke-width="0.9" />
<text x="190.2" y="368.4" font-size="9" text-anchor="middle" font-weight="normal" fill="#222222" >60</text>
<line x1="236.5" y1="352.4" x2="236.5" y2="356.8" stroke="#6a6a6a" stroke-width="0.9" />
<text x="236.3" y="368.4" font-size="9" text-anchor="middle" font-weight="normal" fill="#222222" >80</text>
<text x="147.5" y="383.5" font-size="10" text-anchor="middle" font-weight="normal" fill="#222222" textLength="38.6" lengthAdjust="spacingAndGlyphs" >Time (h)</text>
<text transform="translate(24.2,336.9) rotate(-90)" x="0" y="0" font-size="9.8" fill="#222222" textLength="87" lengthAdjust="spacingAndGlyphs">Cytotoxicity index</text>
<text transform="translate(35.8,327.1) rotate(-90)" x="0" y="0" font-size="9.8" fill="#222222" textLength="69.3" lengthAdjust="spacingAndGlyphs">(GFP intensity)</text>
<polyline points="58.30,332.67 65.26,332.87 72.22,334.25 79.18,335.63 86.14,336.62 93.10,337.60 100.06,338.00 107.02,336.22 113.98,337.01 120.94,337.60 127.90,338.00 134.86,338.39 141.82,338.59 148.78,338.98 155.74,339.18 162.70,339.58 169.66,339.97 176.62,340.36 183.58,340.76 190.54,341.15 197.50,341.55 204.46,341.94 211.42,342.14 218.38,342.53" fill="none" stroke="#a83b79" stroke-width="1.5"/>
<rect x="63.76" y="331.57" width="3" height="2.6" fill="#a83b79"/>
<rect x="70.72" y="332.95" width="3" height="2.6" fill="#a83b79"/>
<rect x="77.68" y="334.33" width="3" height="2.6" fill="#a83b79"/>
<rect x="84.64" y="335.32" width="3" height="2.6" fill="#a83b79"/>
<rect x="91.60" y="336.30" width="3" height="2.6" fill="#a83b79"/>
<rect x="98.56" y="336.70" width="3" height="2.6" fill="#a83b79"/>
<rect x="105.52" y="334.92" width="3" height="2.6" fill="#a83b79"/>
<rect x="112.48" y="335.71" width="3" height="2.6" fill="#a83b79"/>
<rect x="119.44" y="336.30" width="3" height="2.6" fill="#a83b79"/>
<rect x="126.40" y="336.70" width="3" height="2.6" fill="#a83b79"/>
<rect x="133.36" y="337.09" width="3" height="2.6" fill="#a83b79"/>
<rect x="140.32" y="337.29" width="3" height="2.6" fill="#a83b79"/>
<rect x="147.28" y="337.68" width="3" height="2.6" fill="#a83b79"/>
<rect x="154.24" y="337.88" width="3" height="2.6" fill="#a83b79"/>
<rect x="161.20" y="338.28" width="3" height="2.6" fill="#a83b79"/>
<rect x="168.16" y="338.67" width="3" height="2.6" fill="#a83b79"/>
<rect x="175.12" y="339.06" width="3" height="2.6" fill="#a83b79"/>
<rect x="182.08" y="339.46" width="3" height="2.6" fill="#a83b79"/>
<rect x="189.04" y="339.85" width="3" height="2.6" fill="#a83b79"/>
<rect x="196.00" y="340.25" width="3" height="2.6" fill="#a83b79"/>
<rect x="202.96" y="340.64" width="3" height="2.6" fill="#a83b79"/>
<rect x="209.92" y="340.84" width="3" height="2.6" fill="#a83b79"/>
<rect x="216.88" y="341.23" width="3" height="2.6" fill="#a83b79"/>
<polyline points="58.30,332.67 65.26,332.28 72.22,331.49 79.18,330.30 86.14,329.12 93.10,327.15 100.06,325.17 107.02,316.89 113.98,315.31 120.94,312.55 127.90,309.78 134.86,306.23 141.82,302.48 148.78,299.13 155.74,295.18 162.70,292.03 169.66,288.47 176.62,286.50 183.58,284.53 190.54,281.77 197.50,277.43 204.46,273.48 211.42,269.53 218.38,265.39" fill="none" stroke="#e0ab74" stroke-width="1.4"/>
<line x1="65.26" y1="331.68" x2="65.26" y2="332.87" stroke="#e0ab74" stroke-width="1" />
<line x1="63.66" y1="331.68" x2="66.86" y2="331.68" stroke="#e0ab74" stroke-width="1" />
<line x1="63.66" y1="332.87" x2="66.86" y2="332.87" stroke="#e0ab74" stroke-width="1" />
<line x1="72.22" y1="330.89" x2="72.22" y2="332.08" stroke="#e0ab74" stroke-width="1" />
<line x1="70.62" y1="330.89" x2="73.82" y2="330.89" stroke="#e0ab74" stroke-width="1" />
<line x1="70.62" y1="332.08" x2="73.82" y2="332.08" stroke="#e0ab74" stroke-width="1" />
<line x1="79.18" y1="329.51" x2="79.18" y2="331.09" stroke="#e0ab74" stroke-width="1" />
<line x1="77.58" y1="329.51" x2="80.78" y2="329.51" stroke="#e0ab74" stroke-width="1" />
<line x1="77.58" y1="331.09" x2="80.78" y2="331.09" stroke="#e0ab74" stroke-width="1" />
<line x1="86.14" y1="328.13" x2="86.14" y2="330.11" stroke="#e0ab74" stroke-width="1" />
<line x1="84.54" y1="328.13" x2="87.74" y2="328.13" stroke="#e0ab74" stroke-width="1" />
<line x1="84.54" y1="330.11" x2="87.74" y2="330.11" stroke="#e0ab74" stroke-width="1" />
<line x1="93.1" y1="325.96" x2="93.1" y2="328.33" stroke="#e0ab74" stroke-width="1" />
<line x1="91.5" y1="325.96" x2="94.7" y2="325.96" stroke="#e0ab74" stroke-width="1" />
<line x1="91.5" y1="328.33" x2="94.7" y2="328.33" stroke="#e0ab74" stroke-width="1" />
<line x1="100.06" y1="323.79" x2="100.06" y2="326.55" stroke="#e0ab74" stroke-width="1" />
<line x1="98.46" y1="323.79" x2="101.66" y2="323.79" stroke="#e0ab74" stroke-width="1" />
<line x1="98.46" y1="326.55" x2="101.66" y2="326.55" stroke="#e0ab74" stroke-width="1" />
<line x1="107.02" y1="314.52" x2="107.02" y2="319.25" stroke="#e0ab74" stroke-width="1" />
<line x1="105.42" y1="314.52" x2="108.62" y2="314.52" stroke="#e0ab74" stroke-width="1" />
<line x1="105.42" y1="319.25" x2="108.62" y2="319.25" stroke="#e0ab74" stroke-width="1" />
<line x1="113.98" y1="312.94" x2="113.98" y2="317.68" stroke="#e0ab74" stroke-width="1" />
<line x1="112.38" y1="312.94" x2="115.58" y2="312.94" stroke="#e0ab74" stroke-width="1" />
<line x1="112.38" y1="317.68" x2="115.58" y2="317.68" stroke="#e0ab74" stroke-width="1" />
<line x1="120.94" y1="310.18" x2="120.94" y2="314.91" stroke="#e0ab74" stroke-width="1" />
<line x1="119.34" y1="310.18" x2="122.54" y2="310.18" stroke="#e0ab74" stroke-width="1" />
<line x1="119.34" y1="314.91" x2="122.54" y2="314.91" stroke="#e0ab74" stroke-width="1" />
<line x1="127.9" y1="306.82" x2="127.9" y2="312.74" stroke="#e0ab74" stroke-width="1" />
<line x1="126.3" y1="306.82" x2="129.5" y2="306.82" stroke="#e0ab74" stroke-width="1" />
<line x1="126.3" y1="312.74" x2="129.5" y2="312.74" stroke="#e0ab74" stroke-width="1" />
<line x1="134.86" y1="302.68" x2="134.86" y2="309.78" stroke="#e0ab74" stroke-width="1" />
<line x1="133.26" y1="302.68" x2="136.46" y2="302.68" stroke="#e0ab74" stroke-width="1" />
<line x1="133.26" y1="309.78" x2="136.46" y2="309.78" stroke="#e0ab74" stroke-width="1" />
<line x1="141.82" y1="298.54" x2="141.82" y2="306.43" stroke="#e0ab74" stroke-width="1" />
<line x1="140.22" y1="298.54" x2="143.42" y2="298.54" stroke="#e0ab74" stroke-width="1" />
<line x1="140.22" y1="306.43" x2="143.42" y2="306.43" stroke="#e0ab74" stroke-width="1" />
<line x1="148.78" y1="294.2" x2="148.78" y2="304.06" stroke="#e0ab74" stroke-width="1" />
<line x1="147.18" y1="294.2" x2="150.38" y2="294.2" stroke="#e0ab74" stroke-width="1" />
<line x1="147.18" y1="304.06" x2="150.38" y2="304.06" stroke="#e0ab74" stroke-width="1" />
<line x1="155.74" y1="289.26" x2="155.74" y2="301.1" stroke="#e0ab74" stroke-width="1" />
<line x1="154.14" y1="289.26" x2="157.34" y2="289.26" stroke="#e0ab74" stroke-width="1" />
<line x1="154.14" y1="301.1" x2="157.34" y2="301.1" stroke="#e0ab74" stroke-width="1" />
<line x1="162.7" y1="284.53" x2="162.7" y2="299.52" stroke="#e0ab74" stroke-width="1" />
<line x1="161.1" y1="284.53" x2="164.3" y2="284.53" stroke="#e0ab74" stroke-width="1" />
<line x1="161.1" y1="299.52" x2="164.3" y2="299.52" stroke="#e0ab74" stroke-width="1" />
<line x1="169.66" y1="280.98" x2="169.66" y2="295.97" stroke="#e0ab74" stroke-width="1" />
<line x1="168.06" y1="280.98" x2="171.26" y2="280.98" stroke="#e0ab74" stroke-width="1" />
<line x1="168.06" y1="295.97" x2="171.26" y2="295.97" stroke="#e0ab74" stroke-width="1" />
<line x1="176.62" y1="277.82" x2="176.62" y2="295.18" stroke="#e0ab74" stroke-width="1" />
<line x1="175.02" y1="277.82" x2="178.22" y2="277.82" stroke="#e0ab74" stroke-width="1" />
<line x1="175.02" y1="295.18" x2="178.22" y2="295.18" stroke="#e0ab74" stroke-width="1" />
<line x1="183.58" y1="273.48" x2="183.58" y2="295.58" stroke="#e0ab74" stroke-width="1" />
<line x1="181.98" y1="273.48" x2="185.18" y2="273.48" stroke="#e0ab74" stroke-width="1" />
<line x1="181.98" y1="295.58" x2="185.18" y2="295.58" stroke="#e0ab74" stroke-width="1" />
<line x1="190.54" y1="269.14" x2="190.54" y2="294.39" stroke="#e0ab74" stroke-width="1" />
<line x1="188.94" y1="269.14" x2="192.14" y2="269.14" stroke="#e0ab74" stroke-width="1" />
<line x1="188.94" y1="294.39" x2="192.14" y2="294.39" stroke="#e0ab74" stroke-width="1" />
<line x1="197.5" y1="261.25" x2="197.5" y2="293.6" stroke="#e0ab74" stroke-width="1" />
<line x1="195.9" y1="261.25" x2="199.1" y2="261.25" stroke="#e0ab74" stroke-width="1" />
<line x1="195.9" y1="293.6" x2="199.1" y2="293.6" stroke="#e0ab74" stroke-width="1" />
<line x1="204.46" y1="256.91" x2="204.46" y2="290.05" stroke="#e0ab74" stroke-width="1" />
<line x1="202.86" y1="256.91" x2="206.06" y2="256.91" stroke="#e0ab74" stroke-width="1" />
<line x1="202.86" y1="290.05" x2="206.06" y2="290.05" stroke="#e0ab74" stroke-width="1" />
<line x1="211.42" y1="249.01" x2="211.42" y2="290.05" stroke="#e0ab74" stroke-width="1" />
<line x1="209.82" y1="249.01" x2="213.02" y2="249.01" stroke="#e0ab74" stroke-width="1" />
<line x1="209.82" y1="290.05" x2="213.02" y2="290.05" stroke="#e0ab74" stroke-width="1" />
<line x1="218.38" y1="244.67" x2="218.38" y2="286.11" stroke="#e0ab74" stroke-width="1" />
<line x1="216.78" y1="244.67" x2="219.98" y2="244.67" stroke="#e0ab74" stroke-width="1" />
<line x1="216.78" y1="286.11" x2="219.98" y2="286.11" stroke="#e0ab74" stroke-width="1" />
<line x1="232.7" y1="239.9" x2="243.5" y2="239.9" stroke="#e0ab74" stroke-width="1.5" />
<text x="248" y="243.5" font-size="10" text-anchor="start" font-weight="normal" fill="#222222" textLength="60.2" lengthAdjust="spacingAndGlyphs" >CD19-4-1BBζ</text>
<line x1="232.7" y1="259" x2="243.5" y2="259" stroke="#a83b79" stroke-width="1.5" />
<text x="248" y="262.5" font-size="10" text-anchor="start" font-weight="normal" fill="#222222" textLength="67.3" lengthAdjust="spacingAndGlyphs" >CD19-4-1BBζ +</text>
<text x="248" y="273.8" font-size="10" text-anchor="start" font-weight="normal" fill="#222222" textLength="50.9" lengthAdjust="spacingAndGlyphs" >MT-SLP-76</text>
<line x1="457.5" y1="233.7" x2="457.5" y2="352.6" stroke="#6a6a6a" stroke-width="0.9" />
<line x1="453" y1="233.5" x2="457.4" y2="233.5" stroke="#6a6a6a" stroke-width="0.9" />
<text x="448" y="236.89999999999998" font-size="9" text-anchor="end" font-weight="normal" fill="#222222" textLength="31.1" lengthAdjust="spacingAndGlyphs" >80,000</text>
<line x1="453" y1="263.5" x2="457.4" y2="263.5" stroke="#6a6a6a" stroke-width="0.9" />
<text x="448" y="266.5" font-size="9" text-anchor="end" font-weight="normal" fill="#222222" textLength="31.1" lengthAdjust="spacingAndGlyphs" >60,000</text>
<line x1="453" y1="292.5" x2="457.4" y2="292.5" stroke="#6a6a6a" stroke-width="0.9" />
<text x="448" y="296.09999999999997" font-size="9" text-anchor="end" font-weight="normal" fill="#222222" textLength="31.1" lengthAdjust="spacingAndGlyphs" >40,000</text>
<line x1="453" y1="322.5" x2="457.4" y2="322.5" stroke="#6a6a6a" stroke-width="0.9" />
<text x="448" y="325.7" font-size="9" text-anchor="end" font-weight="normal" fill="#222222" textLength="31.1" lengthAdjust="spacingAndGlyphs" >20,000</text>
<line x1="453" y1="352.5" x2="457.4" y2="352.5" stroke="#6a6a6a" stroke-width="0.9" />
<text x="448" y="355.3" font-size="9" text-anchor="end" font-weight="normal" fill="#222222" >0</text>
<text transform="translate(407.9,323.3) rotate(-90)" x="0" y="0" font-size="9.6" fill="#222222" textLength="60.8" lengthAdjust="spacingAndGlyphs">IL-2 (pg ml<tspan font-size="7" dy="-3.8">−1</tspan><tspan dy="3.8">)</tspan></text>
<line x1="453.3" y1="352.6" x2="474.5" y2="352.6" stroke="#e0a870" stroke-width="1" />
<line x1="474.5" y1="350" x2="474.5" y2="355.5" stroke="#6a6a6a" stroke-width="0.9" />
<line x1="484.5" y1="352.5" x2="634.4" y2="352.5" stroke="#6a6a6a" stroke-width="0.9" />
<line x1="484.5" y1="350" x2="484.5" y2="355.5" stroke="#6a6a6a" stroke-width="0.9" />
<line x1="484.5" y1="352.6" x2="558" y2="352.6" stroke="#e0a870" stroke-width="1" />
<text x="457.6" y="368" font-size="9" text-anchor="middle" font-weight="normal" fill="#222222" >0</text>
<line x1="466.5" y1="352.6" x2="466.5" y2="355.6" stroke="#6a6a6a" stroke-width="0.9" />
<text x="466" y="368" font-size="9" text-anchor="middle" font-weight="normal" fill="#222222" >1</text>
<line x1="486.5" y1="352.6" x2="486.5" y2="356.6" stroke="#6a6a6a" stroke-width="0.9" />
<text x="486.6" y="368" font-size="9" text-anchor="middle" font-weight="normal" fill="#222222" >3</text>
<line x1="536.5" y1="352.6" x2="536.5" y2="356.6" stroke="#6a6a6a" stroke-width="0.9" />
<text x="536.1" y="368" font-size="9" text-anchor="middle" font-weight="normal" fill="#222222" >4</text>
<line x1="585.5" y1="352.6" x2="585.5" y2="356.6" stroke="#6a6a6a" stroke-width="0.9" />
<text x="585.4" y="368" font-size="9" text-anchor="middle" font-weight="normal" fill="#222222" >5</text>
<line x1="634.5" y1="352.6" x2="634.5" y2="356.6" stroke="#6a6a6a" stroke-width="0.9" />
<text x="634.2" y="368" font-size="9" text-anchor="middle" font-weight="normal" fill="#222222" >6</text>
<text x="546" y="383.2" font-size="10" text-anchor="middle" font-weight="normal" fill="#222222" textLength="84.6" lengthAdjust="spacingAndGlyphs" >log(CD19 density)</text>
<path d="M558.2,352.4 C563,351 566,347 569.3,343.5 C572,339 574,336 576,329 C579,321 583,314 589,312.1 C593,311.3 600,311.3 604.5,311.3" fill="none" stroke="#e0a870" stroke-width="1"/>
<circle cx="552.2" cy="352.5" r="2.2" fill="#e0a870"/>
<circle cx="556.4" cy="352.3" r="2.2" fill="#e0a870"/>
<circle cx="573.9" cy="334.1" r="2.2" fill="#e0a870"/>
<circle cx="604.5" cy="309.8" r="2.2" fill="#e0a870"/>
<circle cx="604.5" cy="311.5" r="2.2" fill="#e0a870"/>
<circle cx="604.5" cy="313.3" r="2.2" fill="#e0a870"/>
<circle cx="457.6" cy="352.6" r="2.2" fill="#e0a870"/>
<circle cx="506.6" cy="352.8" r="2.2" fill="#e0a870"/>
<circle cx="509.6" cy="352.8" r="2.2" fill="#e0a870"/>
<path d="M457.6,347.5 L474.5,347.5 M484.5,347.5 C500,347.5 510,347.4 520,346.6 C530,345 540,340 548,332.3 C553,327 556,322 560,315 C565,303 570,291 574,284.4 C578,277 581,272 584,268.3 C588,262 594,254.5 597.6,252.2 C600,250 602,248.5 604.4,247.5" fill="none" stroke="#a22e6e" stroke-width="1"/>
<path d="M457.60,349.51 L459.70,353.69 L455.50,353.69 Z" fill="#a22e6e"/>
<path d="M506.40,342.91 L508.50,347.09 L504.30,347.09 Z" fill="#a22e6e"/>
<path d="M509.60,337.71 L511.70,341.89 L507.50,341.89 Z" fill="#a22e6e"/>
<path d="M552.20,334.91 L554.30,339.09 L550.10,339.09 Z" fill="#a22e6e"/>
<path d="M556.00,313.11 L558.10,317.29 L553.90,317.29 Z" fill="#a22e6e"/>
<path d="M556.00,316.41 L558.10,320.59 L553.90,320.59 Z" fill="#a22e6e"/>
<path d="M573.90,280.41 L576.00,284.59 L571.80,284.59 Z" fill="#a22e6e"/>
<path d="M573.90,282.71 L576.00,286.89 L571.80,286.89 Z" fill="#a22e6e"/>
<path d="M604.40,234.61 L606.50,238.79 L602.30,238.79 Z" fill="#a22e6e"/>
<path d="M604.40,249.91 L606.50,254.09 L602.30,254.09 Z" fill="#a22e6e"/>
<path d="M604.40,252.41 L606.50,256.59 L602.30,256.59 Z" fill="#a22e6e"/>
<line x1="470" y1="238.3" x2="483.8" y2="238.3" stroke="#e0a870" stroke-width="1" />
<circle cx="476.9" cy="238.3" r="2" fill="#e0a870"/>
<text x="488.9" y="241.5" font-size="10" text-anchor="start" font-weight="normal" fill="#222222" textLength="59.7" lengthAdjust="spacingAndGlyphs" >CD19-4-1BBζ</text>
<line x1="470" y1="254.7" x2="483.8" y2="254.7" stroke="#a22e6e" stroke-width="1" />
<path d="M476.90,252.68 L478.70,256.32 L475.10,256.32 Z" fill="#a22e6e"/>
<text x="488.9" y="257.6" font-size="10" text-anchor="start" font-weight="normal" fill="#222222" textLength="67" lengthAdjust="spacingAndGlyphs" >CD19-4-1BBζ +</text>
<text x="488.9" y="269.2" font-size="10" text-anchor="start" font-weight="normal" fill="#222222" textLength="50.6" lengthAdjust="spacingAndGlyphs" >MT-SLP-76</text>
<line x1="58.5" y1="425.4" x2="58.5" y2="548.4" stroke="#6a6a6a" stroke-width="0.9" />
<line x1="54" y1="425.5" x2="58.5" y2="425.5" stroke="#6a6a6a" stroke-width="0.9" />
<text x="48.8" y="428.59999999999997" font-size="9" text-anchor="end" font-weight="normal" fill="#222222" textLength="31.1" lengthAdjust="spacingAndGlyphs" >40,000</text>
<line x1="54" y1="456.5" x2="58.5" y2="456.5" stroke="#6a6a6a" stroke-width="0.9" />
<text x="48.8" y="459.3" font-size="9" text-anchor="end" font-weight="normal" fill="#222222" textLength="31.1" lengthAdjust="spacingAndGlyphs" >30,000</text>
<line x1="54" y1="486.5" x2="58.5" y2="486.5" stroke="#6a6a6a" stroke-width="0.9" />
<text x="48.8" y="490.09999999999997" font-size="9" text-anchor="end" font-weight="normal" fill="#222222" textLength="31.1" lengthAdjust="spacingAndGlyphs" >20,000</text>
<line x1="54" y1="517.5" x2="58.5" y2="517.5" stroke="#6a6a6a" stroke-width="0.9" />
<text x="48.8" y="520.8000000000001" font-size="9" text-anchor="end" font-weight="normal" fill="#222222" textLength="29.7" lengthAdjust="spacingAndGlyphs" >10,000</text>
<line x1="54" y1="548.5" x2="58.5" y2="548.5" stroke="#6a6a6a" stroke-width="0.9" />
<text x="48.8" y="551.6" font-size="9" text-anchor="end" font-weight="normal" fill="#222222" >0</text>
<text transform="translate(9.2,517.6) rotate(-90)" x="0" y="0" font-size="9.6" fill="#222222" textLength="61" lengthAdjust="spacingAndGlyphs">IL-2 (pg ml<tspan font-size="7" dy="-3.8">−1</tspan><tspan dy="3.8">)</tspan></text>
<line x1="54.1" y1="548.5" x2="262.8" y2="548.5" stroke="#6a6a6a" stroke-width="0.9" />
<line x1="89.5" y1="548.4" x2="89.5" y2="553.6" stroke="#6a6a6a" stroke-width="0.9" />
<line x1="160.5" y1="548.4" x2="160.5" y2="553.6" stroke="#6a6a6a" stroke-width="0.9" />
<line x1="232.5" y1="548.4" x2="232.5" y2="553.6" stroke="#6a6a6a" stroke-width="0.9" />
<circle cx="69" cy="548.4" r="1.7" fill="#3e6cb6"/>
<circle cx="76.2" cy="548.4" r="1.7" fill="#3e6cb6"/>
<circle cx="83.2" cy="548.4" r="1.7" fill="#3e6cb6"/>
<circle cx="95.7" cy="548.4" r="1.7" fill="#e5243e"/>
<circle cx="102.9" cy="548.4" r="1.7" fill="#e5243e"/>
<circle cx="110.1" cy="548.4" r="1.7" fill="#e5243e"/>
<rect x="139.4" y="534.3" width="16.599999999999994" height="14.100000000000023" fill="#91abd8" stroke="#5479c0" stroke-width="1.2"/>
<rect x="165.9" y="487.3" width="16.400000000000006" height="61.099999999999966" fill="#eb8fa1" stroke="#d93451" stroke-width="1.2"/>
<rect x="210.7" y="523.7" width="16.30000000000001" height="24.699999999999932" fill="#91abd8" stroke="#5479c0" stroke-width="1.2"/>
<rect x="237.0" y="436.6" width="16.69999999999999" height="111.79999999999995" fill="#eb8fa1" stroke="#d93451" stroke-width="1.2"/>
<line x1="147.7" y1="531.9" x2="147.7" y2="536" stroke="#5479c0" stroke-width="0.9" />
<line x1="144.7" y1="531.9" x2="150.7" y2="531.9" stroke="#5479c0" stroke-width="0.9" />
<line x1="144.7" y1="536" x2="150.7" y2="536" stroke="#5479c0" stroke-width="0.9" />
<circle cx="144.5" cy="532.5" r="1.6" fill="#3e6cb6"/>
<circle cx="150.5" cy="533" r="1.6" fill="#3e6cb6"/>
<circle cx="147.5" cy="537" r="1.6" fill="#3e6cb6"/>
<line x1="173.9" y1="482.7" x2="173.9" y2="492.4" stroke="#d93451" stroke-width="0.9" />
<line x1="170.9" y1="482.7" x2="176.9" y2="482.7" stroke="#d93451" stroke-width="0.9" />
<line x1="170.9" y1="492.4" x2="176.9" y2="492.4" stroke="#d93451" stroke-width="0.9" />
<circle cx="170.6" cy="483" r="1.6" fill="#e5243e"/>
<circle cx="177.5" cy="486.4" r="1.6" fill="#e5243e"/>
<circle cx="174.2" cy="492.4" r="1.6" fill="#e5243e"/>
<line x1="218.9" y1="520" x2="218.9" y2="525.5" stroke="#5479c0" stroke-width="0.9" />
<line x1="215.9" y1="520" x2="221.9" y2="520" stroke="#5479c0" stroke-width="0.9" />
<line x1="215.9" y1="525.5" x2="221.9" y2="525.5" stroke="#5479c0" stroke-width="0.9" />
<circle cx="218.6" cy="520" r="1.6" fill="#3e6cb6"/>
<circle cx="222.5" cy="524.5" r="1.6" fill="#3e6cb6"/>
<circle cx="215.5" cy="526.5" r="1.6" fill="#3e6cb6"/>
<line x1="245.3" y1="431.4" x2="245.3" y2="441.4" stroke="#d93451" stroke-width="0.9" />
<line x1="242.3" y1="431.4" x2="248.3" y2="431.4" stroke="#d93451" stroke-width="0.9" />
<line x1="242.3" y1="441.4" x2="248.3" y2="441.4" stroke="#d93451" stroke-width="0.9" />
<circle cx="242" cy="432.5" r="1.6" fill="#e5243e"/>
<circle cx="248.7" cy="434.2" r="1.6" fill="#e5243e"/>
<circle cx="245.3" cy="441.5" r="1.6" fill="#e5243e"/>
<text x="89.3" y="565.8" font-size="10" text-anchor="middle" font-weight="normal" fill="#222222" textLength="44.7" lengthAdjust="spacingAndGlyphs" >No tumor</text>
<text x="160.4" y="566" font-size="10" text-anchor="middle" font-weight="normal" fill="#222222" textLength="31.7" lengthAdjust="spacingAndGlyphs" >Nalm6-</text>
<text x="160.9" y="577.8" font-size="10" text-anchor="middle" fill="#222222" textLength="43.8" lengthAdjust="spacingAndGlyphs">CD22<tspan font-size="7" dy="-4.4">1,300</tspan></text>
<text x="232" y="566" font-size="10" text-anchor="middle" font-weight="normal" fill="#222222" textLength="31.7" lengthAdjust="spacingAndGlyphs" >Nalm6-</text>
<text x="232.5" y="577.8" font-size="10" text-anchor="middle" fill="#222222" textLength="43.8" lengthAdjust="spacingAndGlyphs">CD22<tspan font-size="7" dy="-4.4">2,600</tspan></text>
<circle cx="69" cy="433.4" r="1.9" fill="#3e6cb6"/>
<text x="76.8" y="436.8" font-size="10" text-anchor="start" font-weight="normal" fill="#222222" textLength="59.8" lengthAdjust="spacingAndGlyphs" >CD22-4-1BBζ</text>
<circle cx="69" cy="449.5" r="1.9" fill="#e5243e"/>
<text x="76.8" y="452.4" font-size="10" text-anchor="start" font-weight="normal" fill="#222222" textLength="67.9" lengthAdjust="spacingAndGlyphs" >CD22-4-1BBζ +</text>
<text x="76.8" y="463.5" font-size="10" text-anchor="start" font-weight="normal" fill="#222222" textLength="50.4" lengthAdjust="spacingAndGlyphs" >MT-SLP-76</text>
<line x1="379.1" y1="426.6" x2="379.1" y2="548.5" stroke="#9a9a9a" stroke-width="1.1" />
<line x1="374" y1="426.5" x2="379.1" y2="426.5" stroke="#6a6a6a" stroke-width="0.9" />
<text x="368.9" y="429.8" font-size="9" text-anchor="end" font-weight="normal" fill="#222222" textLength="31.1" lengthAdjust="spacingAndGlyphs" >30,000</text>
<line x1="374" y1="467.5" x2="379.1" y2="467.5" stroke="#6a6a6a" stroke-width="0.9" />
<text x="368.9" y="470.4" font-size="9" text-anchor="end" font-weight="normal" fill="#222222" textLength="31.1" lengthAdjust="spacingAndGlyphs" >20,000</text>
<line x1="374" y1="507.5" x2="379.1" y2="507.5" stroke="#6a6a6a" stroke-width="0.9" />
<text x="368.9" y="511.0" font-size="9" text-anchor="end" font-weight="normal" fill="#222222" textLength="29.7" lengthAdjust="spacingAndGlyphs" >10,000</text>
<line x1="374" y1="548.5" x2="379.1" y2="548.5" stroke="#6a6a6a" stroke-width="0.9" />
<text x="368.9" y="551.6" font-size="9" text-anchor="end" font-weight="normal" fill="#222222" >0</text>
<text transform="translate(330.4,516.3) rotate(-90)" x="0" y="0" font-size="9.6" fill="#222222" textLength="59.3" lengthAdjust="spacingAndGlyphs">IL-2 (pg ml<tspan font-size="7" dy="-3.8">−1</tspan><tspan dy="3.8">)</tspan></text>
<line x1="374.6" y1="548.5" x2="395.8" y2="548.5" stroke="#6a6a6a" stroke-width="0.9" />
<line x1="395.5" y1="545.5" x2="395.5" y2="551.5" stroke="#6a6a6a" stroke-width="0.9" />
<line x1="406.7" y1="548.5" x2="560.1" y2="548.5" stroke="#6a6a6a" stroke-width="0.9" />
<line x1="406.5" y1="545.5" x2="406.5" y2="551.5" stroke="#6a6a6a" stroke-width="0.9" />
<line x1="385.5" y1="548.5" x2="385.5" y2="552.5" stroke="#6a6a6a" stroke-width="0.9" />
<line x1="391.5" y1="548.5" x2="391.5" y2="552.5" stroke="#6a6a6a" stroke-width="0.9" />
<line x1="435.5" y1="548.5" x2="435.5" y2="552.5" stroke="#6a6a6a" stroke-width="0.9" />
<line x1="532.5" y1="548.5" x2="532.5" y2="552.5" stroke="#6a6a6a" stroke-width="0.9" />
<text x="379" y="563.8" font-size="9" text-anchor="middle" font-weight="normal" fill="#222222" >0</text>
<text x="385.3" y="563.8" font-size="9" text-anchor="middle" font-weight="normal" fill="#222222" >1</text>
<text x="391.6" y="563.8" font-size="9" text-anchor="middle" font-weight="normal" fill="#222222" >2</text>
<text x="435.6" y="563.8" font-size="9" text-anchor="middle" font-weight="normal" fill="#222222" >3</text>
<text x="532.3" y="563.8" font-size="9" text-anchor="middle" font-weight="normal" fill="#222222" >4</text>
<text x="469.9" y="579" font-size="10" text-anchor="middle" font-weight="normal" fill="#222222" textLength="117.8" lengthAdjust="spacingAndGlyphs" >log(CD22 concentration)</text>
<path d="M379,548.3 L395.8,548.3 M406.7,548.3 L435.6,548.3 C442,547 448,545 452.3,543 C458,540 462,535 467,527 C472,517 477,505 481.5,495 C485,486 489,474 494,466 C499,457 505,451 512,449 C520,447 530,448 539.6,447.5" fill="none" stroke="#dc2146" stroke-width="1"/>
<rect x="433.80" y="546.50" width="3.6" height="3.6" fill="#dc2146"/>
<rect x="450.50" y="539.90" width="3.6" height="3.6" fill="#dc2146"/>
<rect x="450.50" y="542.70" width="3.6" height="3.6" fill="#dc2146"/>
<rect x="462.60" y="527.30" width="3.6" height="3.6" fill="#dc2146"/>
<rect x="462.60" y="532.50" width="3.6" height="3.6" fill="#dc2146"/>
<rect x="479.70" y="479.20" width="3.6" height="3.6" fill="#dc2146"/>
<rect x="479.70" y="492.20" width="3.6" height="3.6" fill="#dc2146"/>
<rect x="491.80" y="459.70" width="3.6" height="3.6" fill="#dc2146"/>
<rect x="491.80" y="475.80" width="3.6" height="3.6" fill="#dc2146"/>
<rect x="508.60" y="443.10" width="3.6" height="3.6" fill="#dc2146"/>
<rect x="508.60" y="452.10" width="3.6" height="3.6" fill="#dc2146"/>
<rect x="508.60" y="464.00" width="3.6" height="3.6" fill="#dc2146"/>
<rect x="520.70" y="428.20" width="3.6" height="3.6" fill="#dc2146"/>
<rect x="520.70" y="441.90" width="3.6" height="3.6" fill="#dc2146"/>
<rect x="520.70" y="446.70" width="3.6" height="3.6" fill="#dc2146"/>
<rect x="537.80" y="443.80" width="3.6" height="3.6" fill="#dc2146"/>
<rect x="537.80" y="452.60" width="3.6" height="3.6" fill="#dc2146"/>
<rect x="537.80" y="459.20" width="3.6" height="3.6" fill="#dc2146"/>
<circle cx="379" cy="548.5" r="2.1" fill="#dc2146"/>
<polyline points="379,548.5 395.8,548.5" fill="none" stroke="#2e62b3" stroke-width="1"/>
<path d="M406.7,548.5 L452,548.3 C470,547.5 490,546.5 539.4,546.2" fill="none" stroke="#2e62b3" stroke-width="1"/>
<circle cx="379" cy="548.5" r="2.1" fill="#2e62b3"/>
<circle cx="435.3" cy="548.3" r="2.1" fill="#2e62b3"/>
<circle cx="452.5" cy="548" r="2.1" fill="#2e62b3"/>
<circle cx="464.7" cy="547.6" r="2.1" fill="#2e62b3"/>
<circle cx="481.5" cy="546.5" r="2.1" fill="#2e62b3"/>
<circle cx="493.8" cy="546.3" r="2.1" fill="#2e62b3"/>
<circle cx="510.5" cy="545.5" r="2.1" fill="#2e62b3"/>
<circle cx="510.5" cy="547" r="2.1" fill="#2e62b3"/>
<circle cx="522.6" cy="546.3" r="2.1" fill="#2e62b3"/>
<circle cx="539.4" cy="546.2" r="2.1" fill="#2e62b3"/>
<line x1="383.6" y1="435.3" x2="396.8" y2="435.3" stroke="#2e62b3" stroke-width="1" />
<circle cx="389.9" cy="435.3" r="1.8" fill="#2e62b3"/>
<text x="402.6" y="438.7" font-size="10" text-anchor="start" font-weight="normal" fill="#222222" textLength="60.6" lengthAdjust="spacingAndGlyphs" >CD22-4-1BBζ</text>
<line x1="383.6" y1="451.4" x2="396.8" y2="451.4" stroke="#dc2146" stroke-width="1" />
<rect x="388.2" y="449.7" width="3.4" height="3.4" fill="#dc2146"/>
<text x="402.6" y="454.7" font-size="10" text-anchor="start" font-weight="normal" fill="#222222" textLength="67.9" lengthAdjust="spacingAndGlyphs" >CD22-4-1BBζ +</text>
<text x="402.6" y="466.4" font-size="10" text-anchor="start" font-weight="normal" fill="#222222" textLength="49.7" lengthAdjust="spacingAndGlyphs" >MT-SLP-76</text>
<rect x="361.3" y="542.8" width="186.1" height="46.5" stroke="#231f20" stroke-width="1" stroke-dasharray="3.4,2.6" fill="none"/>
<line x1="528.9" y1="542.6" x2="550.3" y2="497.5" stroke="#231f20" stroke-width="1" stroke-dasharray="3.4,2.6" fill="none"/>
<rect x="550.2" y="410.9" width="127.4" height="86.6" stroke="#231f20" stroke-width="1" stroke-dasharray="3.4,2.6" fill="none"/>
<line x1="578.5" y1="417.1" x2="578.5" y2="485" stroke="#6a6a6a" stroke-width="0.6" />
<line x1="575.5" y1="417.5" x2="578.1" y2="417.5" stroke="#6a6a6a" stroke-width="0.6" />
<text x="572.8" y="419.1" font-size="5.6" text-anchor="end" font-weight="normal" fill="#222222" >800</text>
<line x1="575.5" y1="434.5" x2="578.1" y2="434.5" stroke="#6a6a6a" stroke-width="0.6" />
<text x="572.8" y="436" font-size="5.6" text-anchor="end" font-weight="normal" fill="#222222" >600</text>
<line x1="575.5" y1="450.5" x2="578.1" y2="450.5" stroke="#6a6a6a" stroke-width="0.6" />
<text x="572.8" y="452.9" font-size="5.6" text-anchor="end" font-weight="normal" fill="#222222" >400</text>
<line x1="575.5" y1="467.5" x2="578.1" y2="467.5" stroke="#6a6a6a" stroke-width="0.6" />
<text x="572.8" y="469.9" font-size="5.6" text-anchor="end" font-weight="normal" fill="#222222" >200</text>
<line x1="575.5" y1="485.5" x2="578.1" y2="485.5" stroke="#6a6a6a" stroke-width="0.6" />
<text x="572.8" y="487" font-size="5.6" text-anchor="end" font-weight="normal" fill="#222222" >0</text>
<text transform="translate(559.6,471.8) rotate(-90)" font-size="6.4" fill="#222222" textLength="42.5" lengthAdjust="spacingAndGlyphs">IL-2 (pg ml<tspan font-size="4" dy="-2.3">−1</tspan><tspan dy="2.3">)</tspan></text>
<line x1="575.5" y1="485.5" x2="588.7" y2="485.5" stroke="#6a6a6a" stroke-width="0.6" />
<line x1="588.5" y1="483" x2="588.5" y2="487" stroke="#6a6a6a" stroke-width="0.6" />
<line x1="594.6" y1="485.5" x2="676.5" y2="485.5" stroke="#6a6a6a" stroke-width="0.6" />
<line x1="594.5" y1="483" x2="594.5" y2="487" stroke="#6a6a6a" stroke-width="0.6" />
<line x1="581.5" y1="485" x2="581.5" y2="487.5" stroke="#6a6a6a" stroke-width="0.6" />
<line x1="585.5" y1="485" x2="585.5" y2="487.5" stroke="#6a6a6a" stroke-width="0.6" />
<line x1="610.5" y1="485" x2="610.5" y2="487.5" stroke="#6a6a6a" stroke-width="0.6" />
<line x1="664.5" y1="485" x2="664.5" y2="487.5" stroke="#6a6a6a" stroke-width="0.6" />
<line x1="676.5" y1="485" x2="676.5" y2="487.5" stroke="#6a6a6a" stroke-width="0.6" />
<text x="582.3" y="495" font-size="5.6" text-anchor="middle" font-weight="normal" fill="#222222" >012</text>
<text x="610.5" y="495" font-size="5.6" text-anchor="middle" font-weight="normal" fill="#222222" >3</text>
<text x="664.9" y="495" font-size="5.6" text-anchor="middle" font-weight="normal" fill="#222222" >4</text>
<line x1="610.5" y1="485" x2="617.9" y2="417.1" stroke="#dc2146" stroke-width="0.7"/>
<rect x="609.30" y="474.30" width="2.4" height="2.4" fill="#dc2146"/>
<rect x="618.80" y="426.50" width="2.4" height="2.4" fill="#dc2146"/>
<path d="M603,485 C607,485 612,484.5 616,482 C620,479 624,472 628,464 C632,456 636,448 641,442 C646,437.5 652,436.5 660,436.2 C664,436.1 668,436.1 669.1,436.1" fill="none" stroke="#2e62b3" stroke-width="0.7"/>
<circle cx="578.1" cy="485" r="1.1" fill="#2e62b3"/>
<circle cx="610.5" cy="485" r="1.1" fill="#2e62b3"/>
<circle cx="620" cy="478.7" r="1.1" fill="#2e62b3"/>
<circle cx="626.8" cy="466.4" r="1.1" fill="#2e62b3"/>
<circle cx="626.8" cy="469.6" r="1.1" fill="#2e62b3"/>
<circle cx="636.3" cy="446.3" r="1.1" fill="#2e62b3"/>
<circle cx="636.3" cy="449" r="1.1" fill="#2e62b3"/>
<circle cx="643.1" cy="439.5" r="1.1" fill="#2e62b3"/>
<circle cx="643.1" cy="450.9" r="1.1" fill="#2e62b3"/>
<circle cx="652.6" cy="434.6" r="1.1" fill="#2e62b3"/>
<circle cx="652.6" cy="436.3" r="1.1" fill="#2e62b3"/>
<circle cx="659.6" cy="437.8" r="1.1" fill="#2e62b3"/>
<circle cx="659.6" cy="441" r="1.1" fill="#2e62b3"/>
<circle cx="659.6" cy="449" r="1.1" fill="#2e62b3"/>
<circle cx="669.1" cy="438.4" r="1.1" fill="#2e62b3"/>
<circle cx="669.1" cy="441" r="1.1" fill="#2e62b3"/>
<circle cx="669.1" cy="443.7" r="1.1" fill="#2e62b3"/>
</svg>
</body></html>
